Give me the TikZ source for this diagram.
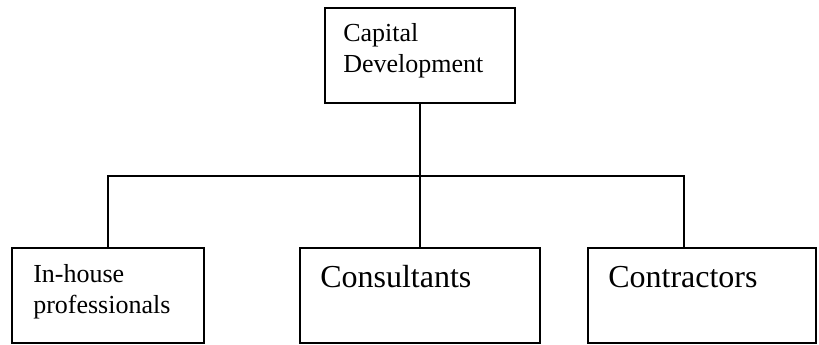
\documentclass[tikz,border=0pt]{standalone}
\usepackage{fontspec}
\setmainfont{Liberation Serif}
\begin{document}
\begin{tikzpicture}[x=0.75pt,y=-0.75pt,
  box/.style={draw,line width=1.4pt,inner sep=0pt,minimum height=71.25pt},
  conn/.style={line width=1.4pt},
  small/.style={font=\fontsize{19.5}{23.25}\selectfont,anchor=base west,inner sep=0pt},
  big/.style={font=\fontsize{24}{28}\selectfont,anchor=base west,inner sep=0pt}]
\useasboundingbox (0,0) rectangle (819,345);

% boxes
\node[box,minimum width=142.5pt] (top) at (420,55.5) {};
\node[box,minimum width=144pt] (left) at (108,295.5) {};
\node[box,minimum width=180pt] (mid) at (420,295.5) {};
\node[box,minimum width=171pt] (right) at (702,295.5) {};

% labels
\node[small] (cap1) at (343,42) {Capital};
\node[small] (cap2) at (343,73) {Development};
\node[small] (ih1) at (33,283) {In-house};
\node[small] (ih2) at (33,314) {professionals};
\node[big] (cons) at (320,288) {Consultants};
\node[big] (contr) at (608,288) {Contractors};

% connectors
\coordinate (j) at (420,176);
\coordinate (rtop) at (684,248);
\draw[conn] (top.south) -- (j);
\draw[conn] (left.north) |- (j) -| (rtop);
\draw[conn] (j) -- (mid.north);
\end{tikzpicture}
\end{document}
